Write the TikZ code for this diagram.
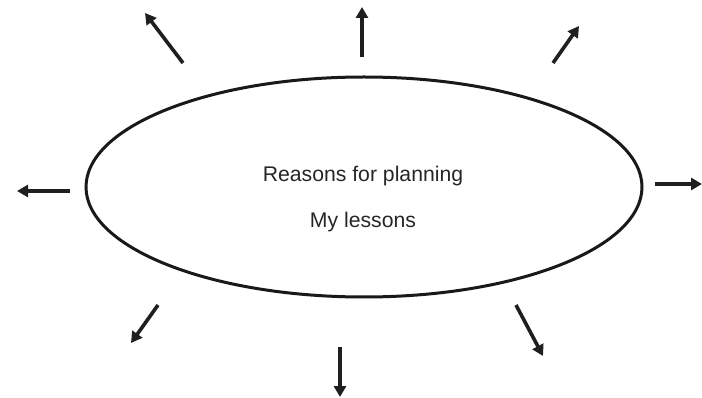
\documentclass[tikz,border=0pt]{standalone}
\usepackage{fontspec}
\setmainfont{Liberation Sans}
\usetikzlibrary{arrows.meta}
\begin{document}
\begin{tikzpicture}[x=1pt,y=-1pt,
  ray/.style={line width=3.6pt,-{Triangle[length=11pt,width=12pt]},color=black!88},
  label/.style={font=\fontsize{21.2}{25}\selectfont,text=black!85,inner sep=0pt}]
\useasboundingbox (0,0) rectangle (702,398);
\coordinate (c) at (364,187);
\draw[line width=3pt,color=black!90] (c) ellipse [x radius=278pt, y radius=110pt];
\node[label] (t1) at (363,176.5) {Reasons for planning};
\node[label] (t2) at (363,222) {My lessons};
% arrows
\coordinate (a1s) at (183,63);  \coordinate (a1e) at (145,13);
\coordinate (a2s) at (362,57);  \coordinate (a2e) at (362,7);
\coordinate (a3s) at (553,63);  \coordinate (a3e) at (579,26);
\coordinate (a4s) at (70,191);  \coordinate (a4e) at (17,191);
\coordinate (a5s) at (655,184); \coordinate (a5e) at (702,184);
\coordinate (a6s) at (158,305); \coordinate (a6e) at (131,343);
\coordinate (a7s) at (340,347); \coordinate (a7e) at (340,397);
\coordinate (a8s) at (516,305); \coordinate (a8e) at (543,356);
\foreach \i in {1,...,8} \draw[ray] (a\i s) -- (a\i e);
\end{tikzpicture}
\end{document}
